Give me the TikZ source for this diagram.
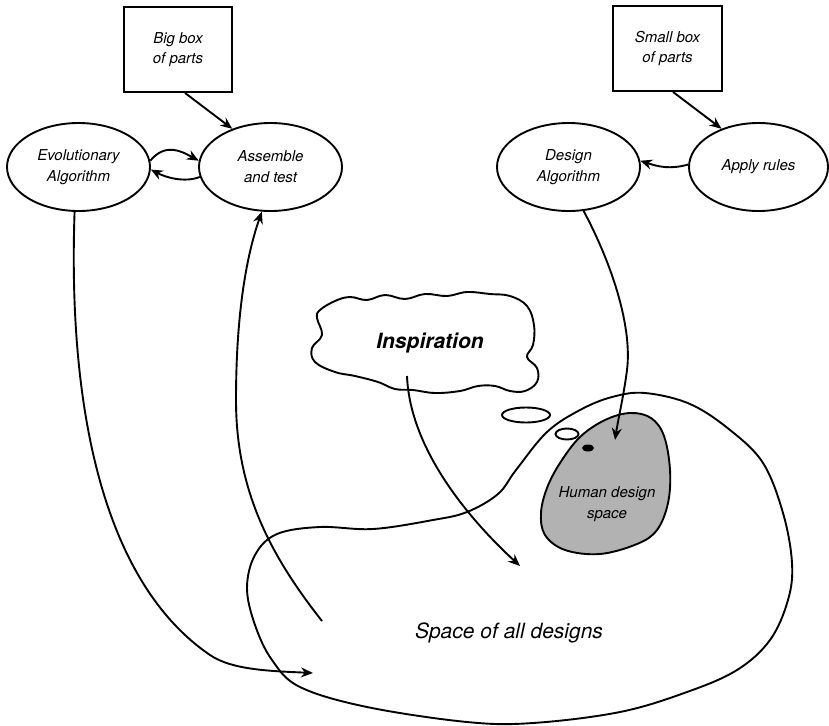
\documentclass[tikz,border=0pt]{standalone}
\usepackage{fontspec}
\setmainfont{TeX Gyre Heros}
\usetikzlibrary{shapes.geometric,arrows.meta}
\tikzset{
  lw/.style={line width=1.9pt},
  oval/.style={draw, lw, ellipse, minimum width=143pt, minimum height=88pt, inner sep=0pt, align=center, font=\itshape\fontsize{15}{21}\selectfont},
  boxnode/.style={draw, lw, rectangle, minimum width=108pt, minimum height=85pt, inner sep=0pt, align=center, font=\itshape\fontsize{15}{20}\selectfont},
  arr/.style={lw, -{Stealth[length=12pt,width=10pt,inset=4pt]}},
  blob/.style={lw, line join=round},
}
\begin{document}
\begin{tikzpicture}[x=1pt,y=-1pt]
\useasboundingbox (0,0) rectangle (829,725);

% space of all designs
\draw[blob] plot[smooth cycle, tension=0.6] coordinates {
 (645,393) (690,404) (730,430) (763,463) (783,513) (792,563) (788,600) (770,640)
 (737,670) (687,692) (620,712) (533,723) (467,722) (367,707) (300,687) (272,660)
 (255,625) (247,588) (255,555) (277,534) (320,527) (373,529) (433,520) (467,512)
 (498,494) (516,470) (547,432) (580,410) (612,397)};

% human design space
\draw[blob, fill=black!30] plot[smooth cycle, tension=0.6] coordinates {
 (630,413) (651,418) (664,436) (670,470) (668,503) (657,530) (637,544) (600,554)
 (565,550) (545,535) (541,513) (547,488) (560,463) (580,437) (605,420)};

% cloud
\draw[blob] plot[smooth cycle, tension=0.65] coordinates {
 (320,310) (335,301) (350,297) (367,300) (385,295) (405,299) (425,294) (447,296)
 (467,292) (490,294) (510,296) (527,306) (534,325) (533,345) (527,357) (537,368)
 (537,382) (525,391) (510,391) (495,386) (478,386) (460,391) (435,393) (413,390)
 (395,389) (378,382) (355,376) (335,372) (315,362) (312,348) (322,335) (317,318)};

% thought bubbles
\draw[lw] (526,415) ellipse [x radius=24pt, y radius=7.5pt];
\draw[lw] (567,434) ellipse [x radius=11.5pt, y radius=5.5pt];
\fill (588,448) ellipse [x radius=6pt, y radius=3.5pt];

% nodes
\node[boxnode] (big) at (178,49.5) {Big box\\of parts};
\node[boxnode, minimum width=109pt] (small) at (667.5,48.5) {Small box\\of parts};
\node[oval] (evo) at (78.5,167) {Evolutionary\\Algorithm};
\node[oval] (ass) at (270.5,167) {Assemble\\and test};
\node[oval] (des) at (568.5,167) {Design\\Algorithm};
\node[oval, minimum width=139pt] (app) at (758.5,167) {Apply rules};

\node[font=\bfseries\itshape\fontsize{21}{25}\selectfont] (insp) at (430,343) {Inspiration};
\node[font=\itshape\fontsize{21}{25}\selectfont] (all) at (509,633) {Space of all designs};
\node[font=\itshape\fontsize{15}{21}\selectfont, align=center] (hds) at (607,504) {Human design\\space};

\coordinate (evoEnd) at (313,673);
\coordinate (assStart) at (322,621);
\coordinate (desEnd) at (615,440);
\coordinate (inspStart) at (407,376);
\coordinate (inspEnd) at (520,566);

% connectors
\draw[arr] ([xshift=7pt]big.south) -- (ass.135);
\draw[arr] ([xshift=5.5pt]small.south) -- (app.134);
\draw[arr] (evo.5) .. controls +(15,-18) and +(-18,-10) .. (ass.175);
\draw[arr] (ass.188) .. controls +(-15,6) and +(15,8) .. (evo.358);
\draw[arr] (app.178) .. controls +(-18,5) and +(18,6) .. (des.5);
\draw[arr] (evo.265) .. controls (68,400) and (100,580) .. (210,655)
  .. controls (232,670) and (270,671) .. (evoEnd);
\draw[arr] (assStart) .. controls (270,555) and (236,490) .. (236,400)
  .. controls (236,320) and (245,260) .. (ass.259);
\draw[arr] (des.289) .. controls (615,270) and (632,330) .. (627,370)
  .. controls (624,394) and (618,420) .. (desEnd);
\draw[arr] (inspStart) .. controls (410,450) and (470,520) .. (inspEnd);
\end{tikzpicture}
\end{document}
